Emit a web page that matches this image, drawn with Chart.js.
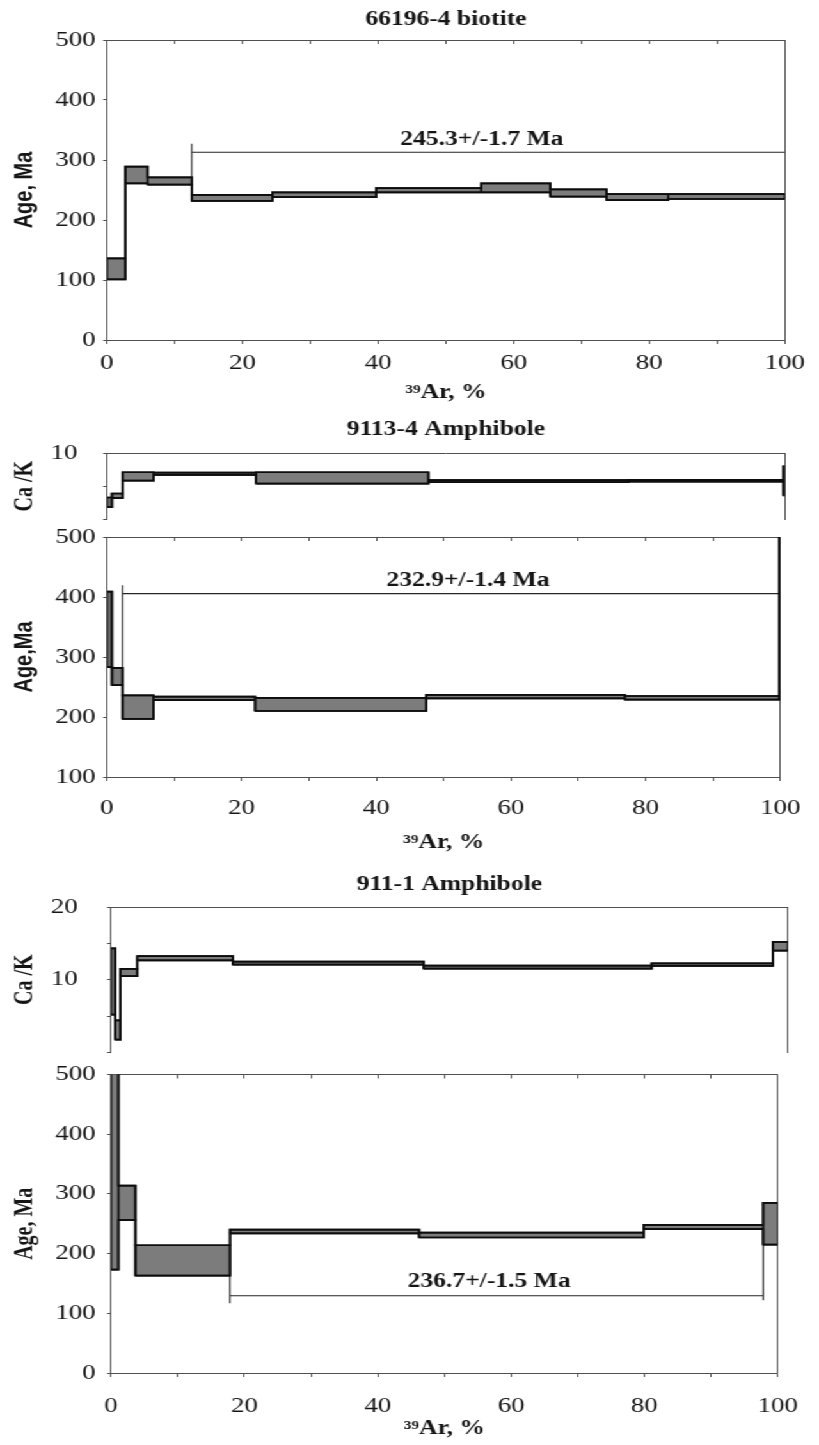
<!DOCTYPE html>
<html><head><meta charset="utf-8">
<script src="https://cdn.jsdelivr.net/npm/chart.js@4.4.1/dist/chart.umd.min.js"></script>
<style>
html,body{margin:0;padding:0;background:#fff;overflow:hidden;width:819px;height:1445px;}
#wrap{position:absolute;left:0;top:0;width:640px;height:1445px;transform:scaleX(1.2797);transform-origin:0 0;}
#wrap canvas{position:absolute;left:0;}
</style></head><body>
<div id="wrap">
<canvas id="cA"></canvas>
<canvas id="cB"></canvas>
<canvas id="cC"></canvas>
<canvas id="cD"></canvas>
<canvas id="cE"></canvas>
</div>
<script>
// ---------- data (39Ar released, %; ages in Ma; Ca/K ratios) ----------
// Panel 1: 66196-4 biotite
const P1_EDGES  = [0, 2.7, 6.0, 12.5, 24.4, 39.7, 55.2, 65.4, 73.7, 82.8, 100];
const P1_AGE_LO = [101, 261, 259, 232, 238, 246, 246, 239, 233, 235];
const P1_AGE_HI = [136, 289, 271, 242, 246, 253, 261, 251, 243, 243];
const P1_PLATEAU_X = [12.5, 12.5, 12.5, 100];
const P1_PLATEAU_Y = [271, 327, 313, 313];
const P1_LABEL = {text: '245.3+/-1.7 Ma', x: 55.3, y: 333};

// Panel 2: 9113-4 Amphibole
const P2_EDGES  = [0, 0.73, 2.3, 6.9, 22.0, 47.4, 76.9, 99.8, 100];
const P2_CAK_LO = [1.85, 3.2, 5.85, 6.7, 5.4, 5.6, 5.7, 3.6];
const P2_CAK_HI = [3.3, 3.9, 7.1, 7.05, 7.1, 5.9, 5.95, 8.0];
const P2_AGE_LO = [283, 253, 197, 228, 210, 231, 229, 230];
const P2_AGE_HI = [409, 282, 236, 234, 232, 237, 235, 520];
const P2_PLATEAU_X = [2.3, 2.3, 2.3, 100];
const P2_PLATEAU_Y = [236, 419.5, 405.6, 405.6];
const P2_LABEL = {text: '232.9+/-1.4 Ma', x: 53.6, y: 427};

// Panel 3: 911-1 Amphibole
const P3_CAK_EDGES = [0, 0.63, 1.41, 3.9, 18.0, 46.2, 79.9, 97.8, 100];
const P3_CAK_LO = [5.2, 1.76, 10.5, 12.65, 12.08, 11.52, 11.9, 14.0];
const P3_CAK_HI = [14.3, 4.4, 11.5, 13.25, 12.48, 11.93, 12.25, 15.2];
const P3_AGE_EDGES = [0, 1.12, 3.65, 17.84, 46.2, 79.9, 97.8, 100];
const P3_AGE_LO = [173, 256, 163, 234, 227, 241, 215];
const P3_AGE_HI = [520, 314, 214, 240, 235, 248, 285];
const P3_PLATEAU_X = [17.84, 17.84, 17.84, 97.8, 97.8, 97.8];
const P3_PLATEAU_Y = [240, 116.7, 129.4, 129.4, 122, 241];
const P3_LABEL = {text: '236.7+/-1.5 Ma', x: 56.7, y: 152.7};

const X_LABELLED = [0, 20, 40, 60, 80, 100];

// ---------- styling ----------
const SERIF = "'Liberation Serif', 'Times New Roman', serif";
const SANS = "'Liberation Sans', Arial, sans-serif";
const W = 640;
const FILL = '#7c7c7c';
const INK = '#0d0d0d';
const AXIS = '#505050';
const TXT = '#151515';

function stepEnvelope(edges, vals) {
  const pts = [];
  for (let i = 0; i < vals.length; i++) {
    pts.push({x: edges[i], y: vals[i]}, {x: edges[i + 1], y: vals[i]});
  }
  return pts;
}
function boxOutlines(edges, lo, hi) {
  const pts = [];
  for (let i = 0; i < lo.length; i++) {
    pts.push({x: edges[i], y: lo[i]}, {x: edges[i], y: hi[i]}, {x: edges[i + 1], y: hi[i]},
             {x: edges[i + 1], y: lo[i]}, {x: edges[i], y: lo[i]}, {x: edges[i + 1], y: null});
  }
  return pts;
}
function spectrum(edges, lo, hi) {
  return [
    {data: stepEnvelope(edges, hi), fill: '+1', backgroundColor: FILL, borderColor: INK, borderWidth: 1.7},
    {data: stepEnvelope(edges, lo), fill: false, borderColor: INK, borderWidth: 1.7},
    {data: boxOutlines(edges, lo, hi), fill: false, borderColor: INK, borderWidth: 1.7}
  ];
}
function plateau(xs, ys) {
  return {data: xs.map((x, i) => ({x: x, y: ys[i]})), fill: false, borderColor: '#262626', borderWidth: 1.1};
}

const plateauLabel = {
  id: 'plateauLabel',
  afterDatasetsDraw(chart, args, opts) {
    if (!opts || !opts.text) return;
    const ctx = chart.ctx;
    const px = chart.scales.x.getPixelForValue(opts.x);
    const py = chart.scales.y.getPixelForValue(opts.y);
    ctx.save();
    ctx.font = 'bold 20px ' + SERIF;
    ctx.fillStyle = TXT;
    ctx.textAlign = 'center';
    ctx.textBaseline = 'middle';
    ctx.fillText(opts.text, px, py);
    ctx.restore();
  }
};

function makeChart(id, c) {
  const cv = document.getElementById(id);
  cv.width = W; cv.height = c.height;
  cv.style.top = c.top + 'px';
  cv.style.width = W + 'px';
  cv.style.height = c.height + 'px';
  const tickFont = {family: SERIF, size: 21};
  return new Chart(cv, {
    type: 'line',
    data: {datasets: c.datasets},
    plugins: [plateauLabel],
    options: {
      responsive: false,
      animation: false,
      events: [],
      elements: {point: {radius: 0}, line: {tension: 0}},
      layout: {padding: {left: 0, right: W - c.right, top: c.padTop || 0, bottom: c.padBottom || 0}},
      plugins: {
        legend: {display: false},
        tooltip: {enabled: false},
        filler: {drawTime: 'beforeDatasetsDraw', propagate: false},
        title: {
          display: !!c.title, text: c.title || '', fullSize: false,
          font: {family: SERIF, size: 20, weight: 'bold'}, color: TXT,
          padding: {top: c.tPadT || 0, bottom: c.tPadB || 0}
        },
        plateauLabel: c.label || {}
      },
      scales: {
        x: {
          type: 'linear', position: 'bottom', min: 0, max: 100,
          display: !!c.showX,
          afterFit: s => { s.height = c.xH || 0; },
          ticks: {
            stepSize: 10, autoSkip: false, maxRotation: 0, minRotation: 0,
            padding: c.xTickPad || 0, font: tickFont, color: TXT,
            callback: v => X_LABELLED.includes(v) ? String(v) : ''
          },
          grid: {display: true, drawOnChartArea: false, drawTicks: true, tickLength: 4, color: AXIS},
          border: {display: true, color: AXIS, width: 1},
          title: {
            display: true, text: '³⁹Ar, %',
            font: {family: SERIF, size: 20, weight: 'bold'}, color: TXT,
            padding: {top: 0, bottom: c.xTitlePadB || 0}
          }
        },
        x2: {
          type: 'linear', position: 'top', min: 0, max: 100,
          afterFit: s => { s.height = 0; },
          ticks: {display: false, stepSize: 10},
          grid: {display: true, drawOnChartArea: false, drawTicks: !!c.topTicks, tickLength: -4, color: AXIS},
          border: {display: true, color: AXIS, width: 1}
        },
        y: {
          type: 'linear', position: 'left', min: c.yMin, max: c.yMax,
          afterFit: s => { s.width = c.left; },
          ticks: {
            stepSize: c.yStep, autoSkip: false, padding: c.yPad,
            font: tickFont, color: TXT,
            callback: v => c.yLabels.includes(v) ? String(v) : ''
          },
          grid: {display: true, drawOnChartArea: false, drawTicks: true, tickLength: 3, color: AXIS},
          border: {display: true, color: AXIS, width: 1},
          title: {
            display: true, text: c.yTitle,
            font: {family: c.yTitleFamily, size: 20, weight: 'bold'}, color: TXT,
            padding: {top: 7.5, bottom: 0}
          }
        },
        y2: {
          type: 'linear', position: 'right', min: 0, max: 1,
          afterFit: s => { s.width = 0; },
          ticks: {display: false},
          grid: {display: true, drawOnChartArea: false, drawTicks: false, color: AXIS},
          border: {display: true, color: AXIS, width: 1}
        }
      }
    }
  });
}

// Panel 1 - age spectrum
makeChart('cA', {
  top: 0, height: 410, left: 83.6, right: 613.3,
  title: '66196-4 biotite', tPadT: 8, tPadB: 8,
  showX: true, xH: 70, xTickPad: 7, xTitlePadB: 5, topTicks: true,
  yMin: 0, yMax: 500, yStep: 100, yLabels: [0, 100, 200, 300, 400, 500], yPad: 5.8,
  yTitle: 'Age, Ma', yTitleFamily: SANS,
  datasets: [...spectrum(P1_EDGES, P1_AGE_LO, P1_AGE_HI), plateau(P1_PLATEAU_X, P1_PLATEAU_Y)],
  label: P1_LABEL
});

// Panel 2 - Ca/K
makeChart('cB', {
  top: 405, height: 147, left: 83.6, right: 613.3, padBottom: 15,
  title: '9113-4 Amphibole', tPadT: 12.5, tPadB: 11.5,
  showX: false, topTicks: false,
  yMin: 0, yMax: 10, yStep: 5, yLabels: [10], yPad: 20,
  yTitle: 'Ca /K', yTitleFamily: SERIF,
  datasets: spectrum(P2_EDGES, P2_CAK_LO, P2_CAK_HI)
});

// Panel 2 - age spectrum
makeChart('cC', {
  top: 517, height: 340, left: 83.6, right: 613.3, padTop: 20,
  showX: true, xH: 80, xTickPad: 14.4, xTitlePadB: 2, topTicks: true,
  yMin: 100, yMax: 500, yStep: 100, yLabels: [100, 200, 300, 400, 500], yPad: 5.8,
  yTitle: 'Age,Ma', yTitleFamily: SANS,
  datasets: [...spectrum(P2_EDGES, P2_AGE_LO, P2_AGE_HI), plateau(P2_PLATEAU_X, P2_PLATEAU_Y)],
  label: P2_LABEL
});

// Panel 3 - Ca/K
makeChart('cD', {
  top: 860, height: 228, left: 86.7, right: 615.6, padBottom: 15,
  title: '911-1 Amphibole', tPadT: 13, tPadB: 10,
  showX: false, topTicks: false,
  yMin: 0, yMax: 20, yStep: 5, yLabels: [10, 20], yPad: 23,
  yTitle: 'Ca /K', yTitleFamily: SERIF,
  datasets: spectrum(P3_CAK_EDGES, P3_CAK_LO, P3_CAK_HI)
});

// Panel 3 - age spectrum
makeChart('cE', {
  top: 1053, height: 392, left: 86.7, right: 615.6, padTop: 20,
  showX: true, xH: 72, xTickPad: 16.4, xTitlePadB: 4, topTicks: true,
  yMin: 0, yMax: 500, yStep: 100, yLabels: [0, 100, 200, 300, 400, 500], yPad: 8.9,
  yTitle: 'Age, Ma', yTitleFamily: SERIF,
  datasets: [...spectrum(P3_AGE_EDGES, P3_AGE_LO, P3_AGE_HI), plateau(P3_PLATEAU_X, P3_PLATEAU_Y)],
  label: P3_LABEL
});
</script>
</body></html>
